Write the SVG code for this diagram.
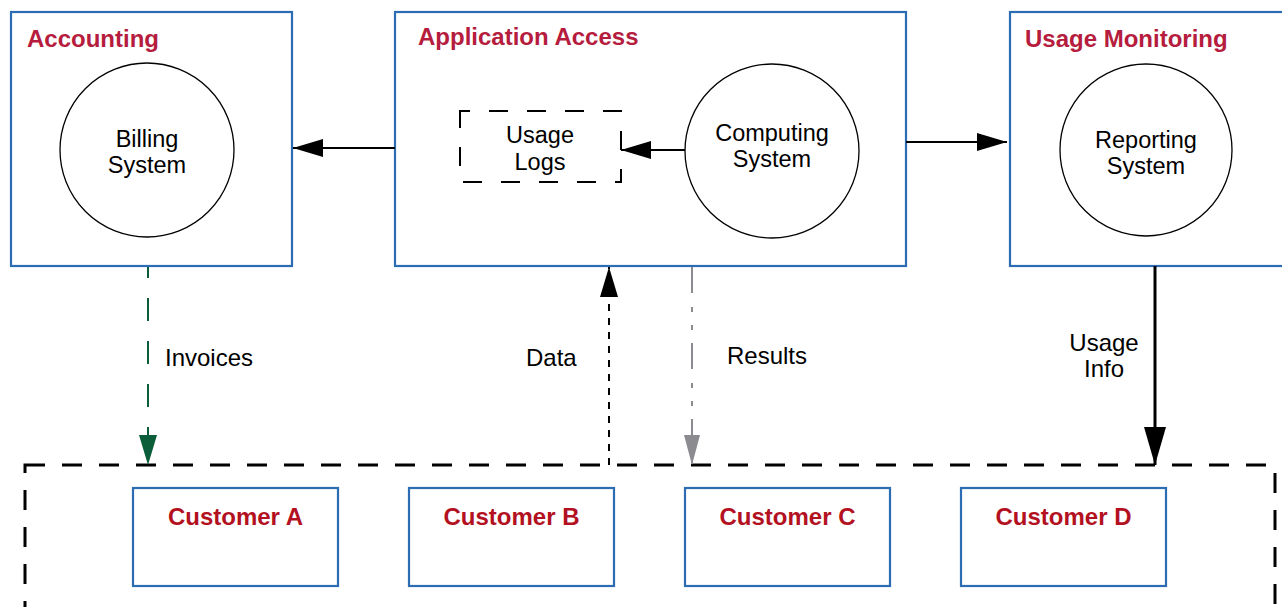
<svg xmlns="http://www.w3.org/2000/svg" width="1282" height="607" viewBox="0 0 1282 607">
<defs>
<style>
.box{fill:#fff;stroke:#2b6cb3;stroke-width:2.2}
.circ{fill:#fff;stroke:#000;stroke-width:1.3}
.title{font-family:"Liberation Sans",Arial,sans-serif;font-weight:bold;font-size:24px;fill:#b51c3d}
.cust{font-family:"Liberation Sans",Arial,sans-serif;font-weight:bold;font-size:24px;fill:#b3111f;text-anchor:middle}
.lbl{font-family:"Liberation Sans",Arial,sans-serif;font-size:23.5px;fill:#000}
.lbl2{font-family:"Liberation Sans",Arial,sans-serif;font-size:24px;fill:#000}
.mid{text-anchor:middle}
.conn{fill:none}
</style>
<marker id="ahBlack" markerUnits="userSpaceOnUse" markerWidth="31" markerHeight="18" refX="30" refY="9" orient="auto" viewBox="0 0 31 18"><path d="M0,0 L30,9 L0,18 z" fill="#000"/></marker>
<marker id="ahThick" markerUnits="userSpaceOnUse" markerWidth="39" markerHeight="22" refX="38" refY="11" orient="auto" viewBox="0 0 39 22"><path d="M0,0 L38,11 L0,22 z" fill="#000"/></marker>
<marker id="ahGreen" markerUnits="userSpaceOnUse" markerWidth="31" markerHeight="18" refX="30" refY="9" orient="auto" viewBox="0 0 31 18"><path d="M0,0 L30,9 L0,18 z" fill="#0b5c38"/></marker>
<marker id="ahGray" markerUnits="userSpaceOnUse" markerWidth="31" markerHeight="16" refX="30" refY="8" orient="auto" viewBox="0 0 31 16"><path d="M0,0 L30,8 L0,16 z" fill="#8c8c90"/></marker>
</defs>
<rect width="1282" height="607" fill="#fff"/>

<g id="accounting">
<rect class="box" x="11" y="12" width="281" height="254"/>
<text class="title" x="27" y="47">Accounting</text>
</g>
<g id="billing-system">
<circle class="circ" cx="147" cy="150" r="87"/>
<text class="lbl mid" x="147" y="147">Billing</text>
<text class="lbl mid" x="147" y="173">System</text>
</g>

<g id="application-access">
<rect class="box" x="395" y="12" width="511" height="254"/>
<text class="title" x="418" y="45">Application Access</text>
</g>
<g id="usage-logs">
<rect x="460" y="111" width="161" height="71" fill="#fff" stroke="#000" stroke-width="2" stroke-dasharray="19 19" stroke-dashoffset="9"/>
<text class="lbl mid" x="540" y="143">Usage</text>
<text class="lbl mid" x="540" y="170">Logs</text>
</g>
<g id="computing-system">
<circle class="circ" cx="772" cy="151" r="87"/>
<text class="lbl mid" x="772" y="141">Computing</text>
<text class="lbl mid" x="772" y="167">System</text>
</g>

<g id="usage-monitoring">
<rect class="box" x="1010" y="12" width="280" height="254"/>
<text class="title" x="1025" y="47">Usage Monitoring</text>
</g>
<g id="reporting-system">
<circle class="circ" cx="1146" cy="150" r="86"/>
<text class="lbl mid" x="1146" y="148">Reporting</text>
<text class="lbl mid" x="1146" y="174">System</text>
</g>

<g id="customers-group">
<rect x="25" y="465" width="1250" height="160" fill="none" stroke="#000" stroke-width="3" stroke-dasharray="20 17"/>
</g>
<g id="customer-a">
<rect class="box" x="133" y="488" width="205" height="98"/>
<text class="cust" x="235.5" y="525">Customer A</text>
</g>
<g id="customer-b">
<rect class="box" x="409" y="488" width="205" height="98"/>
<text class="cust" x="511.5" y="525">Customer B</text>
</g>
<g id="customer-c">
<rect class="box" x="685" y="488" width="205" height="98"/>
<text class="cust" x="787.5" y="525">Customer C</text>
</g>
<g id="customer-d">
<rect class="box" x="961" y="488" width="205" height="98"/>
<text class="cust" x="1063.5" y="525">Customer D</text>
</g>

<g id="connectors" class="conn">
<line x1="395" y1="148" x2="293" y2="148" stroke="#000" stroke-width="2" marker-end="url(#ahBlack)"/>
<line x1="685" y1="150" x2="621" y2="150" stroke="#000" stroke-width="2" marker-end="url(#ahBlack)"/>
<line x1="906" y1="142" x2="1007" y2="142" stroke="#000" stroke-width="2" marker-end="url(#ahBlack)"/>
<line x1="1155" y1="266" x2="1155" y2="465" stroke="#000" stroke-width="3" marker-end="url(#ahThick)"/>
<line x1="148" y1="267" x2="148" y2="465" stroke="#0b5c38" stroke-width="2" stroke-dasharray="23 20" stroke-dashoffset="12" marker-end="url(#ahGreen)"/>
<line x1="609" y1="465" x2="609" y2="267" stroke="#000" stroke-width="2" stroke-dasharray="7 7" marker-end="url(#ahBlack)"/>
<line x1="692" y1="267" x2="692" y2="465" stroke="#8c8c90" stroke-width="2" stroke-dasharray="26 14 5 13 5 13" marker-end="url(#ahGray)"/>
<text class="lbl2" x="165" y="366">Invoices</text>
<text class="lbl2" x="526" y="366">Data</text>
<text class="lbl2" x="727" y="364">Results</text>
<text class="lbl2 mid" x="1104" y="351">Usage</text>
<text class="lbl2 mid" x="1104" y="377">Info</text>
</g>
</svg>
